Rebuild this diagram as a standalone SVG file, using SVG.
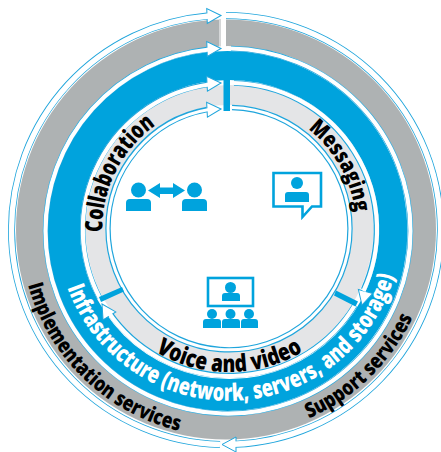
<svg xmlns="http://www.w3.org/2000/svg" width="441" height="452" viewBox="0 0 441 452">
<style>
.e{fill:none;stroke:#1fa5dc;stroke-width:7}
.m{fill:none;stroke:#1fa5dc;stroke-width:5.4}
.w{fill:none;stroke:#fff;stroke-width:5.4}
.n{fill:none;stroke:#fff;stroke-width:4.2}
.i{fill:none;stroke:#fff;stroke-width:3}
.h{fill:#fff;stroke:#1fa5dc;stroke-width:1}
.b{fill:#00a3dd}
.o{fill:none;stroke:#00a3dd;stroke-width:2.6}
.t{font-family:"Open Sans","Liberation Sans",sans-serif;font-weight:800}
</style>
<defs>
<polygon id="head" points="0,0 -14,-7.5 -14,7.5"/>
<g id="person"><circle cx="0" cy="-9" r="7.5"/><path d="M-12.5 12V4a4 4 0 0 1 4-4h17a4 4 0 0 1 4 4v8z"/></g>
<path id="pColl" d="M102.500 232A127 127 0 0 1 158 123.500"/>
<path id="pMsg" d="M308 129A127 127 0 0 1 355 211"/>
<path id="pVoice" d="M155.400 351.600A143 143 0 0 0 305.500 350"/>
<path id="pInfra" d="M67.400 287.800A172 172 0 0 0 395.100 273.500"/>
<path id="pImpl" d="M28 285A206 206 0 0 0 184 432"/>
<path id="pSup" d="M309 418.500A206 206 0 0 0 413 317"/>
</defs>
<rect width="441" height="452" fill="#fff"/>
<g id="rings">
<circle cx="226" cy="229.500" r="210" fill="#aeb2b3"/>
<rect x="219" y="15" width="7" height="35" fill="#fff"/>
<rect x="219" y="19" width="2" height="28" fill="#d5d7d8"/>
<circle cx="228" cy="231" r="185" fill="#fff"/>
<circle cx="227.500" cy="231" r="180" fill="#00a3dd"/>
<circle cx="229.500" cy="229.500" r="149.500" fill="#fff"/>
<circle cx="229.500" cy="229" r="144" fill="#e4e5e7"/>
<circle cx="229" cy="228.500" r="123.500" fill="#fff"/>
</g>
<g id="connectors">
<g id="bodies">
<path class="e" d="M220 444.500A214.500 214.500 0 0 1 11.500 230A214.500 214.500 0 0 1 207 16"/>
<path class="e" d="M226 15.500A214.500 214.500 0 0 1 440.500 230A214.500 214.500 0 0 1 236 444.300"/>
<path class="m" d="M222 413.500A182.500 182.500 0 0 1 45.500 231A182.500 182.500 0 0 1 207 49.500"/>
<path class="m" d="M231 48.500A182.500 182.500 0 0 1 410.500 231A182.500 182.500 0 0 1 222 413.500"/>
<path class="m" d="M99.500 297.500A146.500 146.500 0 0 1 207 84.500"/>
<path class="m" d="M234 83A146.500 146.500 0 0 1 363.500 289.500"/>
<path class="m" d="M355 305A146.500 146.500 0 0 1 109.500 312.500"/>
<path class="m" d="M220 349.500A121 121 0 0 1 108 228.500A121 121 0 0 1 207 109.500"/>
<path class="m" d="M232 107.500A121 121 0 0 1 350 228.500A121 121 0 0 1 220 349.500"/>
</g>
<g id="heads" class="h">
<use href="#head" transform="translate(221 15.500) rotate(-2)"/>
<use href="#head" transform="translate(222 444.500) rotate(180)"/>
<use href="#head" transform="translate(221 48.500) rotate(-2)"/>
<use href="#head" transform="translate(221 83) rotate(-3)"/>
<use href="#head" transform="translate(221 109) rotate(-3)"/>
<use href="#head" transform="translate(362 305) rotate(105)"/>
<use href="#head" transform="translate(102 304) rotate(-122)"/>
</g>
<g id="shafts">
<path class="w" d="M220 444.500A214.500 214.500 0 0 1 11.500 230A214.500 214.500 0 0 1 209 16"/>
<path class="w" d="M226 15.500A214.500 214.500 0 0 1 440.500 230A214.500 214.500 0 0 1 234 444.300"/>
<path class="n" d="M222 413.500A182.500 182.500 0 0 1 45.500 231A182.500 182.500 0 0 1 209 49.500"/>
<path class="n" d="M231 48.500A182.500 182.500 0 0 1 410.500 231A182.500 182.500 0 0 1 222 413.500"/>
<path class="n" d="M99.500 297.500A146.500 146.500 0 0 1 209 84.500"/>
<path class="n" d="M234 83A146.500 146.500 0 0 1 363.500 291"/>
<path class="n" d="M355 305A146.500 146.500 0 0 1 108 311.500"/>
<path class="i" d="M220 349.500A121 121 0 0 1 108 228.500A121 121 0 0 1 209 109.500"/>
<path class="i" d="M232 107.500A121 121 0 0 1 350 228.500A121 121 0 0 1 220 349.500"/>
</g>
<g id="dividers" class="b">
<rect x="223.500" y="80" width="6.500" height="31"/>
<polygon points="99,297 122,287 124,291.500 101,302"/>
<polygon points="336,290.500 358,301.500 355.500,306.500 334,295.500"/>
</g>
</g>
<g id="collaboration">
<text class="t" font-size="24" fill="#000"><textPath href="#pColl" textLength="124" lengthAdjust="spacingAndGlyphs">Collaboration</textPath></text>
<g class="b"><use href="#person" transform="translate(138.500 199)"/><use href="#person" transform="translate(194.500 199)"/>
<polygon points="148,190.500 160,183 160,187.500 173,187.500 173,183 185,190.500 173,198 173,194 160,194 160,198"/></g>
</g>
<g id="messaging">
<text class="t" font-size="22" fill="#000"><textPath href="#pMsg" textLength="98" lengthAdjust="spacingAndGlyphs">Messaging</textPath></text>
<path class="o" d="M273.500 173H321V206.500H312L302.500 217V206.500H273.500z"/>
<g class="b"><circle cx="297" cy="183" r="6"/><path d="M285 202V195a3 3 0 0 1 3-3h18a3 3 0 0 1 3 3v7z"/></g>
</g>
<g id="voice-and-video">
<text class="t" font-size="24" fill="#000"><textPath href="#pVoice" textLength="155" lengthAdjust="spacingAndGlyphs">Voice and video</textPath></text>
<rect class="o" x="208" y="278" width="45" height="28"/>
<g class="b"><circle cx="230.500" cy="287.500" r="5.500"/><path d="M222 301V296a3 3 0 0 1 3-3h12a3 3 0 0 1 3 3v5z"/>
<circle cx="212" cy="314" r="5"/><path d="M203 328V322a3 3 0 0 1 3-3h12a3 3 0 0 1 3 3v6z"/>
<circle cx="230.500" cy="314" r="5"/><path d="M222 328V322a3 3 0 0 1 3-3h12a3 3 0 0 1 3 3v6z"/>
<circle cx="249" cy="314" r="5"/><path d="M241 328V322a3 3 0 0 1 3-3h11a3 3 0 0 1 3 3v6z"/></g>
</g>
<g id="infrastructure">
<text class="t" font-size="24" fill="#fff"><textPath href="#pInfra" textLength="432" lengthAdjust="spacingAndGlyphs">Infrastructure (network, servers, and storage)</textPath></text>
</g>
<g id="implementation-services">
<text class="t" font-size="21" fill="#000"><textPath href="#pImpl" textLength="220" lengthAdjust="spacingAndGlyphs">Implementation services</textPath></text>
</g>
<g id="support-services">
<text class="t" font-size="21" fill="#000"><textPath href="#pSup" textLength="148" lengthAdjust="spacingAndGlyphs">Support services</textPath></text>
</g>
</svg>
